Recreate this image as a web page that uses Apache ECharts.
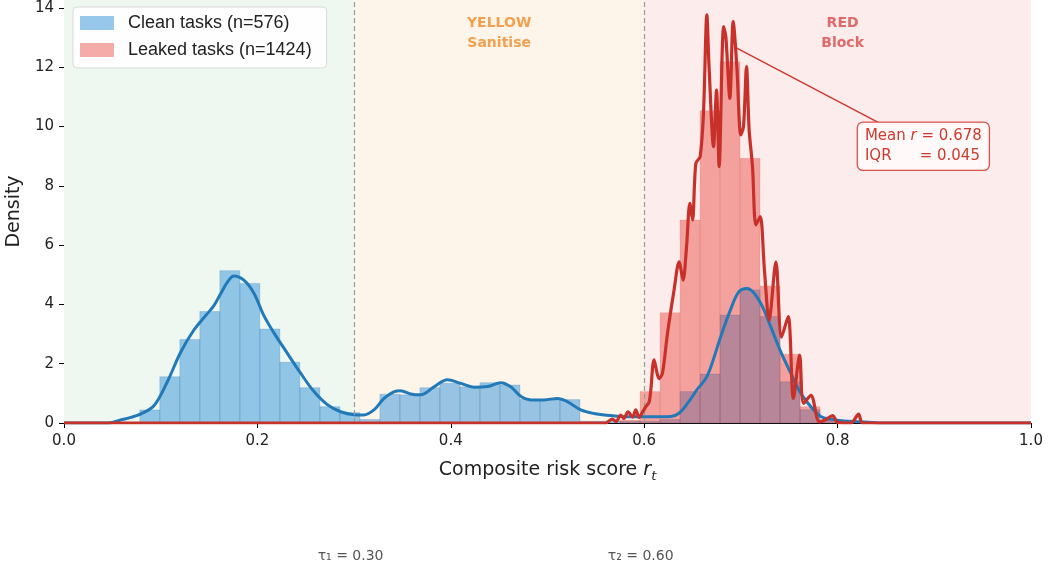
<!DOCTYPE html>
<html>
<head>
<meta charset="utf-8">
<script src="https://cdn.jsdelivr.net/npm/echarts@6/dist/echarts.min.js"></script>
<style>
  html, body { margin: 0; padding: 0; background: #ffffff; }
  #chart { width: 1048px; height: 571px; }
</style>
</head>
<body>
<div id="chart"></div>
<script>
// Histogram bins shared by both groups
const binStart = 0.0784;
const binWidth = 0.02069;

// Density per bin
const cleanHeights = [
  0.44, 1.56, 2.82, 3.76, 5.14, 4.71, 3.17, 2.05, 1.19, 0.55,
  0.35, 0.12, 0.97, 0.95, 1.19, 1.34, 1.22, 1.36, 1.28, 0.80,
  0.79, 0.79, 0.06, 0.06, 0.06, 0.06, 0.12, 1.06, 1.65, 3.64,
  4.49, 3.59, 1.39, 0.45, 0.10
];
const leakedHeights = [
  0, 0, 0, 0, 0, 0, 0, 0, 0, 0,
  0, 0, 0, 0, 0, 0, 0, 0, 0, 0,
  0, 0, 0, 0, 0.10, 1.06, 3.72, 6.85, 10.53, 12.19,
  8.93, 4.62, 2.32, 0.55, 0.10
];

// Kernel density estimates [score, density]
const cleanKde = [
  [0.00, 0], [0.040, 0], [0.050, 0.02], [0.0585, 0.10], [0.069, 0.19], [0.079, 0.30],
  [0.093, 0.58], [0.107, 1.40], [0.1205, 2.38], [0.134, 3.12], [0.148, 3.68],
  [0.155, 3.96], [0.162, 4.36], [0.169, 4.75], [0.1757, 4.96], [0.186, 4.82],
  [0.1964, 4.38], [0.2067, 3.62], [0.2171, 3.04], [0.231, 2.35], [0.2447, 1.68],
  [0.2585, 1.06], [0.2723, 0.62], [0.2861, 0.38], [0.2998, 0.28], [0.310, 0.27],
  [0.3205, 0.44], [0.331, 0.83], [0.341, 1.05], [0.348, 1.09], [0.3585, 0.98],
  [0.369, 0.95], [0.3826, 1.22], [0.3965, 1.46], [0.410, 1.34], [0.424, 1.21],
  [0.438, 1.23], [0.4516, 1.36], [0.462, 1.22], [0.4723, 0.90], [0.4827, 0.78],
  [0.4964, 0.78], [0.5103, 0.83], [0.5206, 0.72], [0.5344, 0.44], [0.548, 0.32],
  [0.565, 0.25], [0.583, 0.21], [0.607, 0.21], [0.6275, 0.22], [0.636, 0.33],
  [0.6448, 0.66], [0.655, 1.14], [0.6637, 1.50], [0.669, 1.90], [0.679, 2.90],
  [0.689, 3.80], [0.698, 4.43], [0.7062, 4.54], [0.7137, 4.38], [0.7224, 3.92],
  [0.7308, 3.25], [0.7413, 2.40], [0.7516, 1.68], [0.762, 1.00], [0.7724, 0.55],
  [0.7827, 0.22], [0.793, 0.13], [0.8065, 0.07], [0.824, 0.04], [0.845, 0], [1.00, 0]
];
const leakedKde = [
  [0.00, 0], [0.560, 0], [0.567, 0.13], [0.571, 0.05], [0.5758, 0.27], [0.579, 0.15],
  [0.5833, 0.38], [0.588, 0.20], [0.5913, 0.44], [0.5947, 0.19], [0.598, 0.35],
  [0.6017, 0.55], [0.605, 0.70], [0.6068, 1.10], [0.6102, 2.13], [0.6154, 1.50],
  [0.6189, 1.68], [0.6241, 3.03], [0.6309, 4.49], [0.6361, 5.44], [0.6402, 4.82],
  [0.6438, 5.95], [0.6472, 7.41], [0.650, 6.85], [0.6534, 8.76], [0.6578, 8.98],
  [0.6613, 10.45], [0.6648, 13.77], [0.6671, 12.0], [0.6717, 9.32], [0.6748, 11.23],
  [0.6775, 8.65], [0.6821, 13.37], [0.6844, 13.03], [0.6886, 10.95], [0.692, 13.54],
  [0.6958, 12.02], [0.6999, 9.72], [0.7027, 10.0], [0.7058, 12.02], [0.7085, 9.9],
  [0.712, 8.65], [0.7155, 6.68], [0.720, 6.96], [0.7241, 5.27], [0.7292, 3.47],
  [0.7362, 5.44], [0.742, 2.90], [0.7489, 3.59], [0.7543, 0.83], [0.7607, 2.29],
  [0.7648, 0.66], [0.7724, 0.93], [0.781, 0.04], [0.787, 0.10], [0.7948, 0.25],
  [0.800, 0.02], [0.8137, 0], [0.8217, 0.30], [0.826, 0], [1.00, 0]
];

// Decision thresholds and zones
const tau1 = 0.30;
const tau2 = 0.60;
const meanLeaked = 0.678;
const iqrLeaked = 0.045;
const yTicks = [0, 2, 4, 6, 8, 10, 12, 14];
const yMax = 14.27;

const cleanName = 'Clean tasks (n=576)';
const leakedName = 'Leaked tasks (n=1424)';
const cleanFill = 'rgba(50,145,217,0.5)';
const leakedFill = 'rgba(232,49,41,0.4)';
const axisFont = 'DejaVu Sans';

function binData(heights) {
  const out = [];
  heights.forEach(function (h, i) {
    if (h > 0) out.push([binStart + i * binWidth, binStart + (i + 1) * binWidth, h]);
  });
  return out;
}

function barRenderer(fill, stroke) {
  return function (params, api) {
    const top = api.coord([api.value(0), api.value(2)]);
    const bottom = api.coord([api.value(1), 0]);
    return {
      type: 'rect',
      shape: { x: top[0], y: top[1], width: bottom[0] - top[0], height: bottom[1] - top[1] },
      style: { fill: fill, stroke: stroke, lineWidth: 0.7 }
    };
  };
}

const chart = echarts.init(document.getElementById('chart'), null, { renderer: 'canvas' });

chart.setOption({
  animation: false,
  backgroundColor: '#ffffff',
  grid: { left: 64, right: 17, top: 0, bottom: 148, containLabel: false, outerBoundsMode: 'none' },
  legend: {
    left: 73, top: 7, orient: 'vertical',
    data: [
      { name: cleanName, itemStyle: { color: cleanFill, borderWidth: 0 } },
      { name: leakedName, itemStyle: { color: leakedFill, borderWidth: 0 } }
    ],
    icon: 'rect', itemWidth: 34, itemHeight: 14, itemGap: 7,
    padding: [6, 15, 8, 7],
    backgroundColor: 'rgba(255,255,255,0.85)',
    borderColor: '#d9d9d9', borderWidth: 1, borderRadius: 4,
    textStyle: { fontFamily: 'Liberation Sans', fontSize: 18, color: '#222', lineHeight: 20, padding: [0, 0, 0, 9] },
    selectedMode: false
  },
  xAxis: {
    type: 'value', min: 0, max: 1, interval: 0.2,
    name: '{n|Composite risk score }{i|r}{s|t}',
    nameLocation: 'middle', nameGap: 34,
    nameTextStyle: {
      rich: {
        n: { fontFamily: axisFont, fontSize: 19, color: '#222', lineHeight: 26, verticalAlign: 'middle' },
        i: { fontFamily: axisFont, fontSize: 19, fontStyle: 'italic', color: '#222', lineHeight: 26, verticalAlign: 'middle' },
        s: { fontFamily: axisFont, fontSize: 13, fontStyle: 'italic', color: '#222', lineHeight: 15, verticalAlign: 'bottom' }
      }
    },
    axisLine: { show: true, lineStyle: { color: '#000', width: 1 } },
    axisTick: { show: true, inside: false, length: 5, lineStyle: { color: '#000', width: 1 } },
    axisLabel: {
      fontFamily: axisFont, fontSize: 15, color: '#222', margin: 11,
      formatter: function (v) { return v.toFixed(1); }
    },
    splitLine: { show: false }
  },
  yAxis: {
    type: 'value', min: 0, max: yMax, interval: 2,
    name: 'Density', nameLocation: 'middle', nameGap: 38, nameRotate: 90,
    nameTextStyle: { fontFamily: axisFont, fontSize: 19, color: '#222' },
    axisLine: { show: true, lineStyle: { color: '#000', width: 1 } },
    axisTick: { show: true, inside: false, length: 5, lineStyle: { color: '#000', width: 1 }, customValues: yTicks },
    axisLabel: {
      fontFamily: axisFont, fontSize: 15, color: '#222', margin: 10,
      customValues: yTicks,
      formatter: function (v) { return yTicks.indexOf(v) >= 0 ? String(v) : ''; }
    },
    splitLine: { show: false }
  },
  series: [
    {
      // risk zones and threshold markers
      name: 'zones', type: 'line', data: [], z: 1, silent: true,
      markArea: {
        silent: true,
        data: [
          [{ xAxis: 0, yAxis: 0, itemStyle: { color: '#eef8f1' } }, { xAxis: tau1, yAxis: yMax }],
          [{ xAxis: tau1, yAxis: 0, itemStyle: { color: '#fef5ea' },
             label: { show: true, formatter: 'YELLOW\nSanitise', color: '#f2a04e' } }, { xAxis: tau2, yAxis: yMax }],
          [{ xAxis: tau2, yAxis: 0, itemStyle: { color: '#fcecec' },
             label: { show: true, formatter: 'RED\nBlock', color: '#e06a6a', offset: [5, 0] } }, { xAxis: 1, yAxis: yMax }]
        ],
        label: {
          show: false, position: 'insideTop', distance: 13,
          fontFamily: axisFont, fontWeight: 'bold', fontSize: 14, lineHeight: 20, align: 'center'
        }
      },
      markLine: {
        silent: true, symbol: 'none',
        label: { show: false },
        lineStyle: { color: '#9a9a9a', type: [5, 3], width: 1.2 },
        data: [{ xAxis: tau1 }, { xAxis: tau2 }]
      }
    },
    {
      name: cleanName, type: 'custom', z: 2,
      itemStyle: { color: cleanFill },
      renderItem: barRenderer(cleanFill, 'rgba(40,110,170,0.3)'),
      encode: { x: [0, 1], y: 2 },
      data: binData(cleanHeights)
    },
    {
      name: leakedName, type: 'custom', z: 3,
      itemStyle: { color: leakedFill },
      renderItem: barRenderer(leakedFill, 'rgba(190,70,70,0.2)'),
      encode: { x: [0, 1], y: 2 },
      data: binData(leakedHeights)
    },
    {
      name: 'Clean KDE', type: 'line', z: 4, smooth: 0.35, showSymbol: false, silent: true,
      lineStyle: { color: '#2179b7', width: 3 },
      data: cleanKde
    },
    {
      name: 'Leaked KDE', type: 'line', z: 5, smooth: 0.3, showSymbol: false, silent: true,
      lineStyle: { color: '#c8312a', width: 3.2 },
      data: leakedKde,
      markLine: {
        silent: true, symbol: 'none',
        label: { show: false },
        lineStyle: { color: '#d0342c', type: 'solid', width: 1.4 },
        data: [[{ coord: [0.6933, 12.69] }, { coord: [0.8424, 10.13] }]]
      }
    }
  ]
});

// Annotation box and threshold captions, placed through the axis scales
const boxAt = chart.convertToPixel({ gridIndex: 0 }, [0.821, 10.13]);
const t1At = chart.convertToPixel({ gridIndex: 0 }, [tau1, 0]);
const t2At = chart.convertToPixel({ gridIndex: 0 }, [tau2, 0]);
const captionY = t1At[1] + 133;

chart.setOption({
  graphic: [
    {
      type: 'text', x: boxAt[0], y: boxAt[1], z: 100,
      style: {
        text: 'Mean {i|r} = ' + meanLeaked.toFixed(3) + '\n{q|IQR} = ' + iqrLeaked.toFixed(3),
        fontFamily: axisFont, fontSize: 15, lineHeight: 20, fill: '#cf3a2e',
        rich: {
          i: { fontFamily: axisFont, fontSize: 15, fontStyle: 'italic', fill: '#cf3a2e', lineHeight: 20 },
          q: { fontFamily: axisFont, fontSize: 15, fill: '#cf3a2e', width: 50, lineHeight: 20 }
        },
        backgroundColor: 'rgba(255,250,250,0.95)',
        borderColor: '#d9534f', borderWidth: 1.3, borderRadius: 5,
        padding: [3, 7, 4, 7]
      }
    },
    {
      type: 'text', x: t1At[0] - 3.5, y: captionY, z: 100,
      style: { text: 'τ₁ = 0.30', fontFamily: axisFont, fontSize: 14, fill: '#555',
               align: 'center', verticalAlign: 'middle' }
    },
    {
      type: 'text', x: t2At[0] - 3.5, y: captionY, z: 100,
      style: { text: 'τ₂ = 0.60', fontFamily: axisFont, fontSize: 14, fill: '#555',
               align: 'center', verticalAlign: 'middle' }
    }
  ]
});
</script>
</body>
</html>
